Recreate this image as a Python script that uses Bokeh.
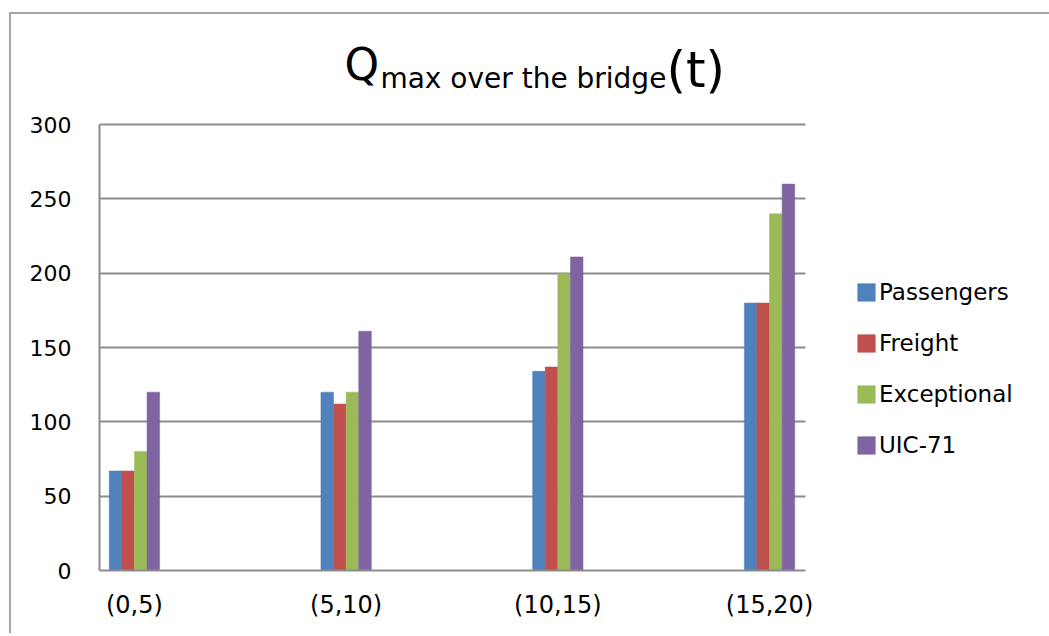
from bokeh.plotting import figure
from bokeh.models import (Range1d, FixedTicker, Label, Legend, LegendItem,
                          ColumnDataSource)
from bokeh.embed import file_html
from bokeh.resources import INLINE

# ---- data ----
categories = ["(0,5)", "(5,10)", "(10,15)", "(15,20)"]
series_names = ["Passengers", "Freight", "Exceptional", "UIC-71"]
passengers = [67, 120, 134, 180]
freight = [67, 112, 137, 180]
exceptional = [80, 120, 200, 240]
uic71 = [120, 161, 211, 260]
y_ticks = [0, 50, 100, 150, 200, 250, 300]

colors = ["#4F81BD", "#C0504D", "#9BBB59", "#8064A2"]
series_values = [passengers, freight, exceptional, uic71]

FONT = "DejaVu Sans"
GRID = "#8c8c8c"
X0, X1 = -0.165, 3.17          # extent of the plotting area (axis / grid lines)
W = 1044
XEND = X0 + (W - 88) / 211.7

p = figure(width=W, height=621, output_backend="svg", toolbar_location=None,
           x_range=Range1d(X0, XEND), y_range=Range1d(0, 367.4),
           min_border_left=88, min_border_right=0,
           min_border_top=10, min_border_bottom=65)
p.styles = {"margin-left": "11px", "margin-top": "14px",
            "box-shadow": "-2px -2px 0px 0px #a6a6a6"}

bar_w = 0.0595
offsets = [-1.5, -0.5, 0.5, 1.5]
idx = list(range(len(categories)))
items = []
for name, vals, col, off in zip(series_names, series_values, colors, offsets):
    src = ColumnDataSource(dict(x=[i + off * bar_w for i in idx], top=vals))
    r = p.vbar(x="x", top="top", width=bar_w, bottom=0, source=src,
               fill_color=col, line_color=col, line_width=0.5)
    items.append(LegendItem(label=name, renderers=[r]))

# axes
p.yaxis.ticker = FixedTicker(ticks=y_ticks)
p.yaxis.bounds = (0, 300)
p.xaxis.ticker = FixedTicker(ticks=idx)
p.xaxis.bounds = (X0, X1)
p.xaxis.major_label_overrides = {i: c for i, c in zip(idx, categories)}
for ax in (p.xaxis[0], p.yaxis[0]):
    ax.axis_line_color = GRID
    ax.axis_line_width = 2
    ax.major_tick_line_color = None
    ax.minor_tick_line_color = None
    ax.major_tick_out = 0
    ax.major_tick_in = 0
    ax.minor_tick_out = 0
    ax.major_label_text_font = FONT
    ax.major_label_text_color = "black"
p.yaxis.major_label_text_font_size = "22px"
p.yaxis.major_label_standoff = 28
p.xaxis.major_label_text_font_size = "24px"
p.xaxis.major_label_standoff = 20

p.xgrid.visible = False
p.ygrid.grid_line_color = GRID
p.ygrid.grid_line_width = 2
p.ygrid.cross_bounds = (X0, X1)
p.outline_line_color = None

# legend
legend = Legend(items=items, location=(756, 112), orientation="vertical",
                glyph_width=22, glyph_height=22, label_standoff=2,
                spacing=25, padding=0, margin=0, label_height=26,
                border_line_color=None, background_fill_alpha=0,
                label_text_font=FONT, label_text_font_size="23px",
                label_text_color="black")
p.add_layout(legend)

# title: Q_max over the bridge (t)
p.add_layout(Label(x=0.992, y=340.5, text="Q", text_font=FONT, text_color="black",
                   text_font_size="44px", text_baseline="alphabetic"))
p.add_layout(Label(x=1.162, y=331.1, text="max over the bridge", text_font=FONT,
                   text_color="black", text_font_size="28px", text_baseline="alphabetic"))
p.add_layout(Label(x=2.513, y=337.1, text="(t)", text_font=FONT, text_color="black",
                   text_font_size="50px", text_baseline="alphabetic"))

open("out.html", "w").write(file_html(p, INLINE))
